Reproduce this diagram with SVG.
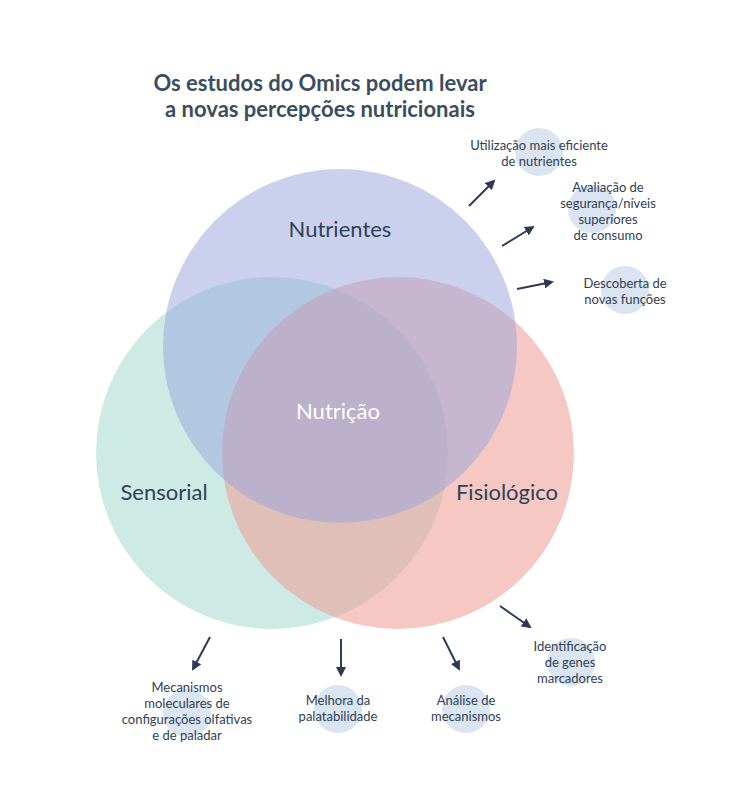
<svg xmlns="http://www.w3.org/2000/svg" width="750" height="804" viewBox="0 0 750 804">
<defs>
<style>
text{font-family:"Lato","Liberation Sans",sans-serif;fill:#2f4157}
.t{font-size:22px;font-weight:bold;text-anchor:middle;fill:#3b4d60}
.s{font-size:13px;text-anchor:middle}
.b{font-size:22px;text-anchor:middle}
.dot{fill:#dbe4f1}
.c{stroke:#2d3a55;stroke-width:2;marker-end:url(#a)}
</style>
<marker id="a" viewBox="0 0 10 10" refX="8" refY="5" markerWidth="5" markerHeight="5" orient="auto"><path d="M0,0L10,5L0,10z" fill="#2d3a55"/></marker>
</defs>
<rect width="750" height="804" fill="#fff"/>
<text class="t" x="320" y="91">Os estudos do Omics podem levar</text>
<text class="t" x="320" y="117">a novas percepções nutricionais</text>
<g id="venn">
<circle cx="272" cy="453" r="176" fill="#cdeae5"/>
<circle cx="398" cy="453" r="176" fill="#ee9a93" fill-opacity="0.55"/>
<circle cx="340" cy="346" r="177" fill="#98a4dc" fill-opacity="0.5"/>
</g>
<g id="labels">
<text class="b" x="340" y="237">Nutrientes</text>
<text class="b" x="164" y="500">Sensorial</text>
<text class="b" x="507" y="500">Fisiológico</text>
<text class="b" x="338" y="419" style="fill:#fff">Nutrição</text>
</g>
<g id="dots">
<circle class="dot" cx="539" cy="152" r="24"/>
<circle class="dot" cx="592" cy="209" r="24"/>
<circle class="dot" cx="625" cy="290" r="24"/>
<circle class="dot" cx="571" cy="662" r="24"/>
<circle class="dot" cx="187" cy="713" r="24"/>
<circle class="dot" cx="338" cy="709" r="24"/>
<circle class="dot" cx="466" cy="709" r="24"/>
</g>
<g id="connectors">
<line class="c" x1="469" y1="206" x2="494" y2="181"/>
<line class="c" x1="502" y1="246" x2="533" y2="227"/>
<line class="c" x1="517" y1="289" x2="552" y2="282"/>
<line class="c" x1="500" y1="606" x2="530" y2="627"/>
<line class="c" x1="210" y1="637" x2="193" y2="669"/>
<line class="c" x1="341" y1="639" x2="341" y2="675"/>
<line class="c" x1="443" y1="637" x2="459" y2="669"/>
</g>
<g id="notes">
<text class="s" x="539" y="150">Utilização mais eficiente</text>
<text class="s" x="539" y="166">de nutrientes</text>
<text class="s" x="608" y="192">Avaliação de</text>
<text class="s" x="608" y="208">segurança/níveis</text>
<text class="s" x="608" y="224">superiores</text>
<text class="s" x="608" y="240">de consumo</text>
<text class="s" x="625" y="288">Descoberta de</text>
<text class="s" x="625" y="304">novas funções</text>
<text class="s" x="570" y="651">Identificação</text>
<text class="s" x="570" y="667">de genes</text>
<text class="s" x="570" y="683">marcadores</text>
<text class="s" x="187" y="692">Mecanismos</text>
<text class="s" x="187" y="708">moleculares de</text>
<text class="s" x="187" y="724">configurações olfativas</text>
<text class="s" x="187" y="740">e de paladar</text>
<text class="s" x="338" y="705">Melhora da</text>
<text class="s" x="338" y="721">palatabilidade</text>
<text class="s" x="466" y="705">Análise de</text>
<text class="s" x="466" y="721">mecanismos</text>
</g>
</svg>
